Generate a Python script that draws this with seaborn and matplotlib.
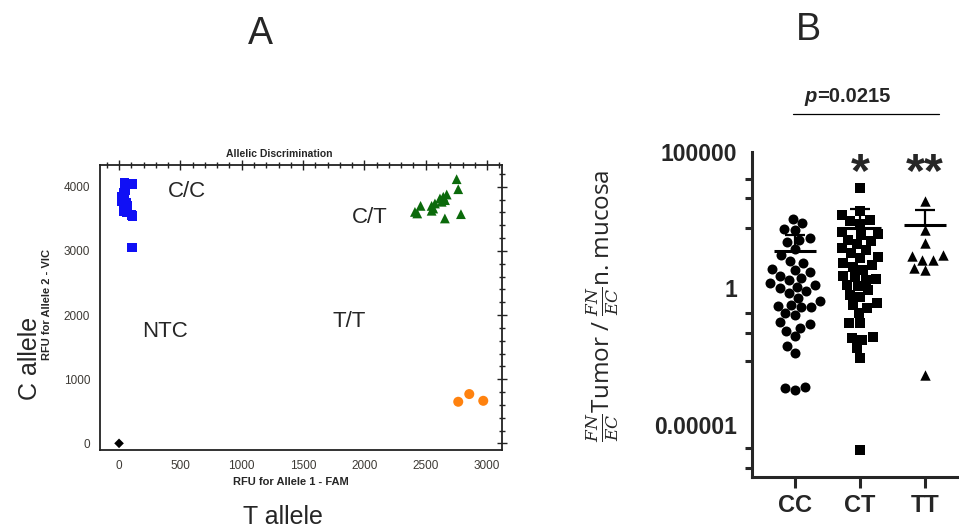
import numpy as np
import pandas as pd
import matplotlib
matplotlib.use("Agg")
import matplotlib.pyplot as plt
import seaborn as sns
from matplotlib.ticker import MultipleLocator, NullFormatter
from matplotlib.lines import Line2D

# ---- panel A: allelic discrimination (RFU) ----
cc_fam = [45, 110, 50, 40, 20, 30, 25, 60, 55, 70, 40, 60, 100, 110, 105]
cc_vic = [4060, 4040, 3950, 3900, 3850, 3800, 3780, 3750, 3700, 3700, 3620, 3600, 3560, 3540, 3050]
ct_fam = [2752, 2765, 2458, 2431, 2412, 2548, 2561, 2575, 2616, 2643, 2671, 2630, 2657, 2656, 2787, 2548]
ct_vic = [4117, 3961, 3701, 3583, 3607, 3701, 3660, 3738, 3816, 3843, 3878, 3765, 3790, 3505, 3572, 3625]
tt_fam = [2765, 2855, 2969]
tt_vic = [648, 768, 663]
ntc_fam = [0]
ntc_vic = [0]

region_labels = ["C/C", "C/T", "NTC", "T/T"]
region_x = [552, 2046, 375, 1877]
region_y = [3919, 3520, 1738, 1894]

# ---- panel B: FN/EC ratio tumor vs normal mucosa ----
genotypes = ["CC", "CT", "TT"]
cc_ratio = [355, 240, 141, 132, 71, 60, 50, 28, 16.6, 10, 8.3, 5.2, 4.8, 4.0, 2.8, 2.4,
            2.0, 1.5, 1.26, 1.12, 1.0, 0.76, 0.66, 0.45, 0.35, 0.24, 0.22, 0.21, 0.20,
            0.12, 0.10, 0.056, 0.050, 0.035, 0.028, 0.017, 0.0076, 0.0042, 0.00024,
            0.00022, 0.00019]
ct_ratio = [4570, 645, 480, 316, 282, 224, 117, 100, 89, 59, 52, 40, 30, 25, 19, 14, 12.6,
            8.3, 7.1, 6.2, 4.7, 2.6, 2.2, 2.8, 2.0, 1.32, 1.15, 0.87, 0.56, 0.49, 0.28,
            0.25, 0.19, 0.12, 0.052, 0.052, 0.015, 0.016, 0.013, 0.0063, 0.0028, 0.0000012]
tt_ratio = [1620, 138, 45, 16.6, 14.5, 11, 11, 5.4, 4.7, 0.00066]
group_mean = [23, 158, 209]
group_sem_top = [85, 776, 741]
stars = ["", "*", "**"]

sns.set_style("white")
plt.rcParams["font.family"] = ["Liberation Sans", "DejaVu Sans"]
plt.rcParams["mathtext.fontset"] = "custom"
plt.rcParams["mathtext.it"] = "DejaVu Serif:italic"
plt.rcParams["mathtext.rm"] = "DejaVu Serif"

fig = plt.figure(figsize=(9.59, 5.28), dpi=100)

# ---------------- panel A ----------------
ax1 = fig.add_axes([0.1043, 0.1477, 0.4192, 0.5398])
dfa = pd.DataFrame({
    "fam": cc_fam + ct_fam + tt_fam + ntc_fam,
    "vic": cc_vic + ct_vic + tt_vic + ntc_vic,
    "call": ["C/C"] * len(cc_fam) + ["C/T"] * len(ct_fam) + ["T/T"] * len(tt_fam) + ["NTC"] * len(ntc_fam),
})
pal = {"C/C": "#1010f5", "C/T": "#0b6a0b", "T/T": "#ff820f", "NTC": "black"}
mk = {"C/C": "s", "C/T": "^", "T/T": "o", "NTC": "D"}
sizes = {"C/C": 46, "C/T": 50, "T/T": 52, "NTC": 24}
for c in ["C/C", "C/T", "T/T", "NTC"]:
    sub = dfa[dfa["call"] == c]
    sns.scatterplot(data=sub, x="fam", y="vic", color=pal[c], marker=mk[c],
                    s=sizes[c], edgecolor="none", linewidth=0, ax=ax1, legend=False)

ax1.set_xlim(-155, 3122)
ax1.set_ylim(-104, 4338)
ax1.xaxis.set_major_locator(MultipleLocator(500))
ax1.xaxis.set_minor_locator(MultipleLocator(100))
ax1.yaxis.set_major_locator(MultipleLocator(1000))
ax1.yaxis.set_minor_locator(MultipleLocator(200))
ax1.tick_params(which="both", direction="inout", top=True, right=True,
                colors="#222222", labelcolor="#3d3a35", labelsize=8.5, width=1)
ax1.tick_params(which="major", length=7)
ax1.tick_params(which="minor", length=4)
for sp in ax1.spines.values():
    sp.set_linewidth(1.3)
    sp.set_color("#222222")

for t, x, y in zip(region_labels, region_x, region_y):
    ax1.text(x, y, t, fontsize=16, ha="center", va="center")

ax1.text(0.445, 1.022, "Allelic Discrimination", transform=ax1.transAxes,
         fontsize=7.5, fontweight="bold", ha="center", va="bottom")
ax1.set_xlabel("RFU for Allele 1 - FAM", fontsize=8, fontweight="bold")
ax1.set_ylabel("RFU for Allele 2 - VIC", fontsize=8, fontweight="bold")
ax1.xaxis.set_label_coords(0.475, -0.095)
ax1.yaxis.set_label_coords(-0.120, 0.509)

fig.text(260 / 959, 1 - 34 / 528, "A", fontsize=27, ha="center", va="center")
fig.text(283 / 959, 1 - 524 / 528, "T allele", fontsize=18, ha="center", va="baseline")
fig.text(30 / 959, 1 - 358 / 528, "C allele", fontsize=18, ha="center", va="center",
         rotation=90)

# ---------------- panel B ----------------
ax2 = fig.add_axes([0.7842, 0.0966, 0.2176, 0.6161])
dfb = pd.DataFrame({
    "genotype": ["CC"] * len(cc_ratio) + ["CT"] * len(ct_ratio) + ["TT"] * len(tt_ratio),
    "ratio": cc_ratio + ct_ratio + tt_ratio,
})
ax2.set_yscale("log")
for g, m, sz in zip(genotypes, ["o", "s", "^"], [7.2, 7.2, 7.5]):
    sns.swarmplot(data=dfb[dfb["genotype"] == g], x="genotype", y="ratio", order=genotypes,
                  marker=m, color="black", size=sz, linewidth=0, ax=ax2, warn_thresh=1)

for i, (mn, st) in enumerate(zip(group_mean, group_sem_top)):
    ax2.hlines(mn, i - 0.33, i + 0.33, color="black", lw=2.2, zorder=5)
    ax2.vlines(i, mn, st, color="black", lw=1.6, zorder=5)
    ax2.hlines(st, i - 0.16, i + 0.16, color="black", lw=1.6, zorder=5)

ax2.set_xlim(-0.66, 2.55)
ax2.set_ylim(1.2e-7, 1e5)
ax2.set_yticks([1e-5, 1, 1e5], labels=["0.00001", "1", "100000"])
ax2.set_yticks([1e4, 2e3, 160, 0.12, 0.022, 0.0021, 1.4e-6, 2.6e-7], minor=True)
ax2.yaxis.set_minor_formatter(NullFormatter())
ax2.tick_params(axis="y", which="major", length=8, width=2.2, labelsize=16.5, pad=3)
ax2.tick_params(axis="y", which="minor", length=5, width=2.2, left=True)
ax2.tick_params(axis="x", length=8, width=2.2, labelsize=17, pad=4, bottom=True)
for lab in ax2.get_xticklabels() + ax2.get_yticklabels():
    lab.set_fontweight("bold")
sns.despine(ax=ax2)
ax2.spines["left"].set_linewidth(2.2)
ax2.spines["bottom"].set_linewidth(2.2)
ax2.set_xlabel("")
ax2.set_ylabel(r"$\frac{FN}{EC}$Tumor / $\frac{FN}{EC}$n. mucosa", fontsize=17.5,
               family="Open Sans")
ax2.yaxis.set_label_coords(-0.627, 0.525)

for i, s in enumerate(stars):
    if s:
        ax2.text(i, 1.6e4, s, fontsize=35, fontweight="bold", ha="center", va="center")

# p value bracket
fig.text(817 / 959, 1 - 101.7 / 528, "p", fontsize=14.5, fontweight="bold",
         fontstyle="italic", ha="right", va="baseline")
fig.text(817 / 959, 1 - 101.7 / 528, "=0.0215", fontsize=14.5, fontweight="bold",
         ha="left", va="baseline")
ax2.add_line(Line2D([0.196, 0.895], [1.116, 1.116], transform=ax2.transAxes,
                    color="black", lw=0.9, clip_on=False))

fig.text(808 / 959, 1 - 30 / 528, "B", fontsize=27, ha="center", va="center")

fig.savefig("out.png", dpi=100)
